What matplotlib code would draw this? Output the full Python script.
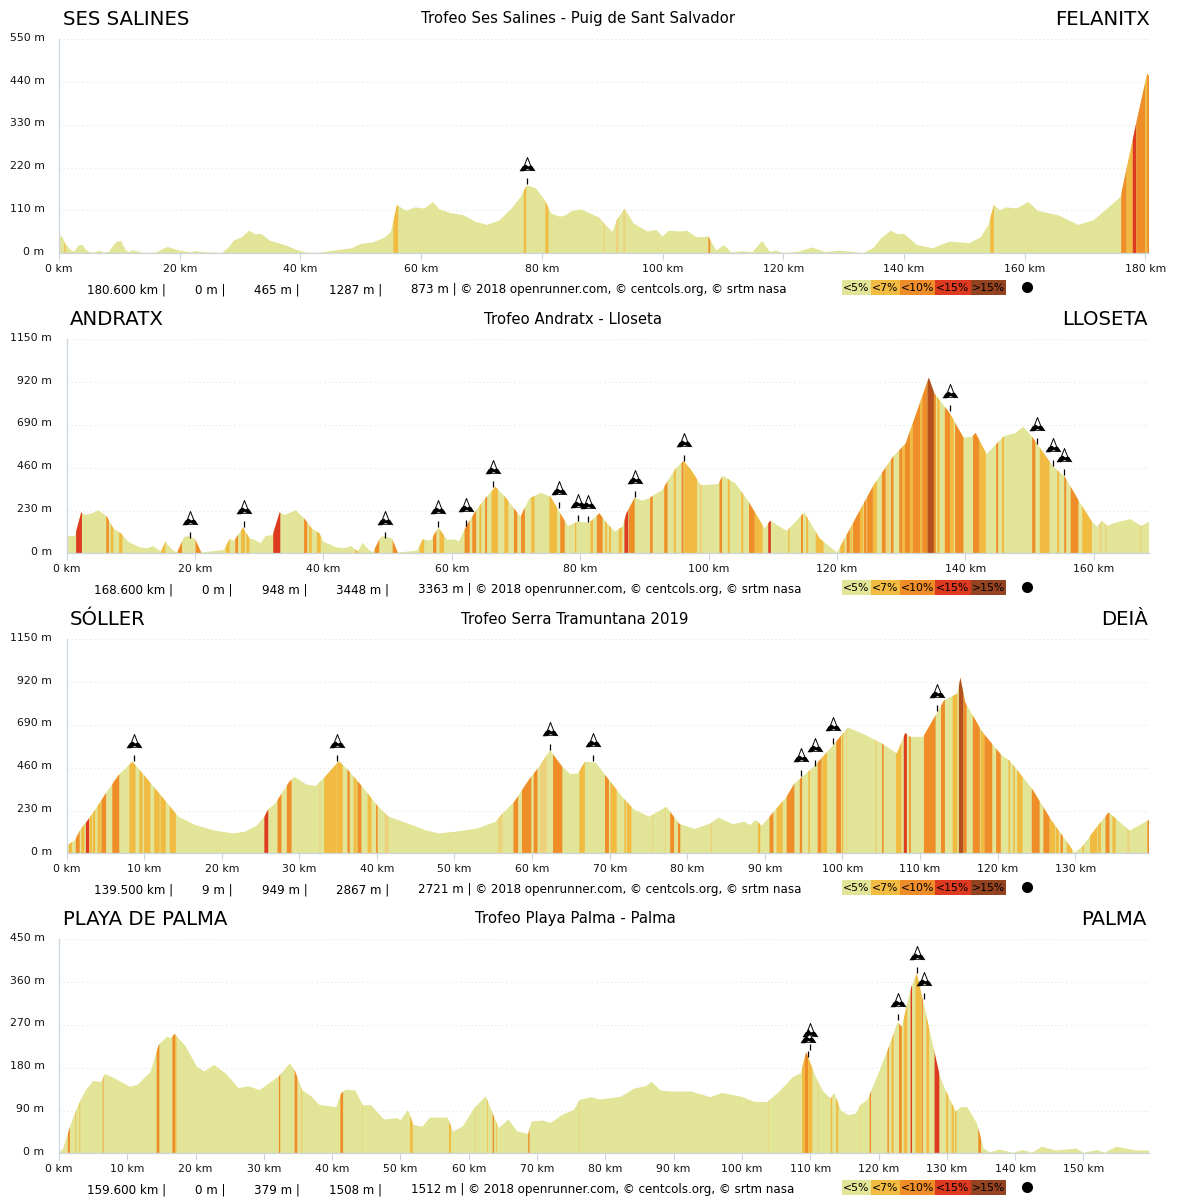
import matplotlib
matplotlib.use('Agg')
import matplotlib.pyplot as plt
from matplotlib.patches import Rectangle
from matplotlib.path import Path
from matplotlib.transforms import ScaledTranslation, offset_copy

# ---- colours: 0 base, 1 <7%, 2 <10%, 3 <15%, 4 >15%, 5 pale stripe, 6 steep stripe on the profile ----
slope_colors = ['#e2e497', '#f1bb42', '#ef8e28', '#dd3a1f', '#944321', '#ecd27c', '#b4501e']
slope_labels = ['<5%', '<7%', '<10%', '<15%', '>15%']

# ---- stage 1 ----
km1 = [0, 0.6, 1, 2, 2.5, 3.3, 3.9, 4.5, 5.2, 6.2, 6.5, 7.5, 8.3, 9, 9.6, 10.3, 11, 11.5, 12.2, 13, 14, 16, 18, 20, 22,
       22.5, 24, 27, 28, 29, 30.3, 31.5, 32.5, 33.5, 35, 37.5, 39.5, 41, 43, 46, 48.5, 50, 52, 54, 55, 56, 56.6, 57.5,
       59, 60.5, 62, 63, 65, 67, 69, 71, 73, 75, 76.5, 77.5, 79, 80.5, 81.5, 83, 84, 85, 86.5, 89.5, 90.3, 91.7, 92.4,
       93.7, 95.2, 97.5, 99, 100, 101, 102.9, 104, 105.7, 107.6, 108.9, 110.2, 111.4, 113, 114.9, 116.5, 117.8, 118.7,
       120, 122.5, 124.8, 127, 129.2, 133.3, 134.9, 136.2, 137.8, 139, 140, 142.2, 144.8, 146, 147.6, 150.8, 152.7,
       154, 154.9, 155.9, 157, 158.7, 160.6, 162.2, 165.7, 168.9, 171.4, 173.7, 175.9, 178.4, 180.3, 180.6]
ele1 = [44, 42, 25, 8, 4, 21, 21, 8, 2, 3, 7, 2, 4, 20, 30, 32, 9, 3, 8, 5, 1, 2, 16, 7, 2,
        6, 3, 1, 13, 33, 41, 58, 49, 50, 32, 21, 8, 2, 1, 8, 13, 24, 28, 41, 55, 124, 118, 109,
        118, 115, 132, 113, 103, 98, 81, 73, 85, 115, 145, 175, 167, 137, 103, 94, 98, 109, 113, 92, 77, 55, 85,
        115, 77, 56, 60, 43, 58, 56, 58, 41, 43, 7, 21, 2, 5, 3, 32, 4, 7,
        1, 4, 15, 3, 7, 1, 13, 38, 58, 49, 50, 21, 13, 21, 30, 26, 41,
        73, 124, 111, 118, 115, 132, 109, 97, 73, 85, 115, 145, 329, 462, 455]
bands1 = [(0.9, 1.1, 1), (55.4, 56.2, 1), (77, 77.4, 1), (80.6, 81.1, 1), (90.2, 90.4, 5), (92.3, 92.7, 5), (93.5, 93.8, 5),
          (107.6, 107.9, 2), (154.3, 154.9, 1), (176, 176.9, 2), (176.9, 177.9, 1), (177.9, 178.5, 3), (178.5, 180, 2),
          (180, 180.3, 1), (180.3, 180.6, 2)]
cols1_km = [77.5]
cols1_m = [178]

# ---- stage 2 ----
km2 = [0, 1.3, 2.3, 2.9, 4, 5, 6.3, 7.3, 8.5, 9.6, 11.4, 12.6, 13.5, 14.7, 15.4, 16.5, 17.2, 18.3, 18.9, 20, 21, 24.5,
       25.4, 26.1, 27.5, 28.5, 29.3, 30.2, 31, 32.1, 33.2, 34, 35.7, 37, 38.2, 39.4, 40, 42, 43.3, 44.3, 45.4, 46.1,
       47.1, 47.7, 48.9, 49.5, 50.7, 51.6, 54.6, 55.5, 56.7, 57.9, 59.3, 60.5, 61.1, 62.2, 63.5, 65, 66.8, 68.3, 70.7,
       72.1, 73.9, 75.4, 76.9, 78.1, 79.6, 81.4, 83, 84.2, 85.4, 86.6, 87.2, 88.5, 89.6, 90.7, 91.9, 92.8, 93.7, 94.9,
       96.1, 97.3, 98.8, 101.5, 102.2, 104.2, 106.3, 108.7, 109.6, 112.2, 114.9, 117.3, 120, 125.7, 128.7, 130.7, 134.3,
       135.2, 137.6, 139.7, 141, 141.6, 143.3, 146, 147.8, 149, 150.4, 153.7, 155.5, 157.6, 159.7, 160.5, 161.3, 162.1,
       163.3, 165.7, 167.4, 168.6]
ele2 = [93, 93, 220, 206, 215, 232, 197, 134, 107, 63, 32, 27, 39, 9, 63, 18, 4, 86, 93, 79, 4, 18,
        77, 68, 139, 80, 72, 54, 93, 98, 220, 206, 232, 188, 134, 107, 63, 32, 27, 39, 9, 57,
        18, 4, 86, 93, 79, 4, 14, 75, 68, 139, 72, 75, 63, 143, 215, 286, 358, 304, 197,
        295, 325, 304, 215, 147, 170, 164, 215, 161, 116, 143, 215, 299, 283, 295, 322, 340, 393, 456,
        497, 447, 366, 372, 417, 375, 274, 134, 175, 120, 220, 80, 4, 366, 518, 590, 944,
        858, 751, 622, 626, 647, 533, 629, 647, 680, 626, 465, 411, 286, 170, 143, 175, 147,
        164, 184, 147, 170]
bands2 = [(1.5, 2.4, 3), (6.2, 6.6, 2), (6.9, 7.3, 1), (8.2, 8.7, 1), (14.7, 15.4, 1), (17.3, 18, 2), (20.1, 21, 2),
          (24.8, 25.4, 1), (26.3, 26.7, 2), (27.2, 27.8, 1), (28, 28.5, 1), (32.2, 33.3, 3), (37, 37.5, 2), (37.8, 38.2, 1),
          (39, 39.6, 1), (45, 45.5, 1), (48, 48.7, 2), (50.8, 51.6, 2), (55, 55.7, 1), (57.1, 57.6, 2), (58.1, 58.8, 1),
          (62, 62.8, 2), (63.2, 63.8, 2), (64.3, 64.6, 1), (65.2, 65.5, 2), (66.2, 67.2, 1), (68.2, 68.8, 1), (69.7, 70.2, 2),
          (70.8, 71.4, 2), (72.4, 72.9, 1), (75.2, 76.4, 1), (76.9, 77.6, 2), (79.2, 79.4, 1), (81.6, 82, 1), (82.6, 83.5, 2),
          (83.9, 84.2, 1), (84.5, 84.8, 1), (86, 86.5, 1), (86.9, 87.5, 3), (87.6, 88.5, 2), (90.9, 91.3, 2), (93.1, 93.6, 2),
          (94.6, 94.9, 1), (95.8, 96.1, 2), (96.2, 98.2, 1), (98.6, 99, 5), (101.7, 102.1, 2), (103, 103.3, 1), (105.1, 105.4, 1),
          (106.3, 107.2, 2), (107.2, 108.4, 1), (109.3, 109.7, 3), (112.4, 112.6, 1), (114.4, 114.7, 2), (115.2, 115.5, 1),
          (116.7, 117.9, 1), (120.5, 121.2, 1), (121.5, 122, 2), (122.1, 122.4, 1), (122.5, 123.6, 2), (123.6, 124.1, 1),
          (124.2, 124.6, 2), (124.7, 125.6, 2), (125.6, 126.2, 1), (127, 127.6, 2), (127.6, 128.2, 5), (128.4, 128.8, 2),
          (129.7, 130.2, 2), (130.2, 130.6, 1), (130.6, 131.4, 2), (131.4, 131.8, 1), (131.8, 133, 2), (133, 133.3, 1),
          (133.3, 134.1, 2), (134.1, 135.1, 6), (135.1, 135.4, 2), (135.6, 136, 1), (136.8, 137.6, 2), (137.6, 138.2, 1),
          (138.4, 139.7, 2), (141.2, 142.2, 2), (142.2, 143.2, 1), (144.8, 145.1, 2), (145.7, 146, 1), (150.4, 150.9, 2),
          (151.6, 153.1, 1), (154.3, 154.6, 1), (155.4, 155.7, 2), (156.4, 157.6, 2), (158.2, 159.7, 1), (160.9, 161.2, 5),
          (161.8, 162, 5), (167.2, 167.4, 5)]
cols2_km = [19.2, 27.6, 49.6, 57.9, 62.3, 66.4, 76.7, 79.7, 81.2, 88.5, 96.1, 137.6, 151.2, 153.7, 155.4]
cols2_m = [79, 139, 80, 139, 147, 356, 241, 170, 166, 300, 497, 763, 586, 470, 420]

# ---- stage 3 ----
km3 = [0.2, 1.1, 1.8, 2.6, 3.8, 5, 6.7, 8.5, 10, 11.4, 13.2, 14.4, 16.6, 19.1, 21.5, 23, 24.5, 25.5, 26, 26.9, 28.7, 29.4,
       30.9, 32.1, 33.3, 35.1, 36.3, 38.3, 40, 41.5, 44.2, 46.2, 47.9, 50.1, 53, 55.3, 56, 57.7, 59.7, 60.9, 62.3, 63.9,
       64.9, 65.9, 66.8, 68.2, 68.7, 69.6, 71.6, 73.1, 75.1, 77.3, 79, 81, 83, 84, 85.9, 87.4, 88.1, 88.8, 89.6, 90.6,
       92.8, 93.8, 96.3, 98.8, 100.7, 103, 105.1, 107, 108.1, 108.7, 110.4, 113.1, 114.8, 115.2, 115.8, 118, 120.5,
       121.5, 124.4, 126.9, 129.9, 130.9, 132.8, 134.3, 137, 139.5]
ele3 = [45, 72, 129, 170, 241, 318, 420, 492, 420, 349, 259, 197, 152, 122, 107, 116, 148, 197, 236, 268, 384, 411,
        370, 361, 411, 495, 447, 349, 259, 197, 157, 125, 107, 116, 134, 170, 206, 277, 402, 465, 554, 465,
        426, 429, 492, 488, 460, 411, 304, 236, 197, 250, 157, 131, 161, 191, 157, 170, 152, 179, 148, 197,
        304, 375, 465, 581, 676, 635, 590, 536, 647, 626, 626, 822, 858, 944, 813, 653, 527,
        500, 349, 179, 4, 36, 143, 220, 122, 179]
bands3 = [(0.3, 0.7, 1), (1.2, 1.7, 2), (1.9, 2.3, 1), (2.5, 2.9, 3), (2.95, 3.3, 1), (3.4, 3.7, 1), (4, 4.4, 1), (4.5, 5.1, 2),
          (5.9, 6.8, 2), (8.1, 8.9, 1), (9.4, 9.8, 1), (10, 10.8, 1), (11.3, 12, 1), (12.1, 12.8, 1), (13.3, 14.1, 1),
          (25.5, 26, 3), (27.2, 27.7, 2), (28.4, 29, 2), (32.6, 32.7, 5), (33.2, 34.8, 1), (34.8, 35.6, 1), (36.2, 36.5, 2),
          (37, 37.4, 1), (37.5, 38, 2), (38.8, 39.3, 1), (39.9, 40.1, 2), (41, 41.5, 5), (55.6, 56.2, 5), (57.6, 58.2, 2),
          (58.7, 59.9, 2), (60.2, 60.7, 2), (61, 61.9, 5), (62.7, 63.9, 2), (66.1, 66.8, 1), (69.4, 69.9, 2), (70.1, 70.9, 1),
          (71.9, 72.1, 1), (72.2, 72.8, 1), (75.5, 75.6, 5), (77.1, 77.2, 5), (77.8, 78.3, 2), (78.8, 79.1, 2), (83, 83.2, 5),
          (89.1, 89.4, 1), (90.6, 91.1, 2), (91.5, 92.3, 1), (92.8, 93.8, 2), (94.5, 94.8, 2), (95.6, 95.8, 1), (96.8, 97.3, 2),
          (97.4, 98, 1), (99.2, 99.8, 2), (99.9, 100.1, 1), (100.5, 100.6, 5), (104.2, 104.4, 5), (105.1, 105.3, 2),
          (106.9, 107.6, 1), (107.9, 108.3, 3), (108.6, 108.8, 2), (110.5, 112, 2), (112.7, 113.2, 2), (114.2, 114.8, 1),
          (115, 115.6, 6), (115.6, 116, 2), (116.8, 117.7, 2), (117.8, 118.3, 1), (118.3, 119.3, 2), (119.8, 120.4, 2),
          (121.4, 121.6, 1), (122, 122.2, 1), (122.5, 123.2, 1), (124.4, 125.4, 2), (125.9, 126.7, 2), (126.7, 127.4, 1),
          (127.5, 127.9, 1), (128.1, 128.4, 2), (128.9, 129.6, 1), (130.9, 131.1, 1), (131.9, 132.8, 1), (132.9, 133.3, 1),
          (133.9, 134.4, 2), (134.8, 135.2, 1), (136.7, 137, 5), (139.3, 139.5, 2)]
cols3_km = [8.7, 34.8, 62.3, 67.9, 94.6, 96.4, 98.8, 112.2]
cols3_m = [495, 495, 556, 497, 417, 470, 586, 763]

# ---- stage 4 ----
km4 = [0, 0.6, 1.7, 2.8, 3.9, 5, 6.2, 6.7, 8.1, 10.4, 11.5, 13.4, 14.6, 15.8, 16.4, 16.9, 18.5, 20.2, 21.3, 22.7, 24.4, 26.3,
       27.7, 29.4, 32.2, 33.8, 34.5, 35.6, 37, 38.1, 40.6, 41.3, 42, 43.4, 44.5, 45.7, 47.6, 49.6, 50, 51.1, 51.9, 53.2,
       54.3, 56.9, 57.7, 59.1, 60.8, 62.5, 63.5, 64.4, 65.8, 67.1, 68.7, 69.2, 70.9, 72, 73.7, 75.4, 76.2, 77.9, 79.2,
       82.3, 84.2, 85.9, 86.8, 88.1, 89.8, 92.6, 95.4, 97.1, 99.9, 101.9, 103.7, 105.5, 107.5, 108.6, 109.4, 110.8, 111.9,
       113, 113.5, 114.5, 115.6, 116.7, 117.3, 118.4, 120.1, 121.8, 122.8, 123.4, 124.8, 125.6, 126.5, 129, 129.9, 131.3,
       132.1, 133, 134.4, 135.4, 136.3, 137.7, 139.7, 141.1, 142.5, 143.9, 145.9, 149, 150, 152, 153.1, 154.8, 157.6, 159.6]
ele4 = [0, 10, 60, 101, 132, 152, 150, 167, 158, 140, 144, 171, 228, 245, 242, 251, 226, 182, 172, 186, 168, 137,
        141, 133, 162, 189, 175, 133, 119, 102, 97, 126, 134, 132, 101, 101, 71, 74, 69, 91, 60, 56,
        75, 75, 46, 56, 95, 120, 84, 53, 71, 46, 41, 67, 69, 64, 81, 91, 112, 118, 113,
        119, 136, 141, 150, 132, 130, 130, 118, 127, 119, 108, 108, 130, 161, 168, 213, 161, 130,
        115, 127, 90, 80, 84, 101, 113, 172, 235, 276, 266, 350, 378, 322, 161, 130, 88,
        97, 97, 63, 10, 2, 8, 1, 7, 1, 14, 6, 10, 1, 7, 1, 14, 6, 6]
bands4 = [(1.3, 1.6, 2), (2.4, 2.5, 1), (3, 3.1, 1), (6.4, 6.5, 2), (14.3, 14.7, 2), (16.6, 17, 2), (17, 17.2, 1), (32.2, 32.4, 2),
          (34.5, 34.9, 2), (35.5, 35.6, 1), (41.2, 41.6, 2), (44.4, 44.5, 5), (51.4, 51.8, 1), (57.1, 57.4, 1), (60.9, 61, 5),
          (62.7, 62.8, 1), (63.5, 63.7, 2), (64, 64.1, 1), (68.7, 68.9, 2), (76.1, 76.2, 5), (103.8, 103.9, 5), (108.8, 109.2, 1),
          (109.2, 109.7, 2), (109.7, 110.3, 1), (111.1, 111.2, 5), (113, 113.2, 1), (113.8, 114.1, 1), (117.3, 117.4, 5),
          (118.7, 118.9, 2), (121.3, 121.5, 2), (121.9, 122.2, 1), (123, 123.4, 2), (123.7, 124.2, 1), (124.7, 124.9, 3),
          (125.4, 126.2, 1), (126.3, 126.5, 2), (127, 127.4, 1), (128.2, 128.9, 3), (129.9, 130.2, 1), (130.7, 131, 1),
          (131.2, 131.4, 1), (134.6, 135, 2)]
cols4_km = [109.9, 109.7, 122.9, 125.7, 126.7]
cols4_m = [217, 203, 280, 378, 324]

# ---- labels ----
starts = ['SES SALINES', 'ANDRATX', 'SÓLLER', 'PLAYA DE PALMA']
ends = ['FELANITX', 'LLOSETA', 'DEIÀ', 'PALMA']
titles = ['Trofeo Ses Salines - Puig de Sant Salvador', 'Trofeo Andratx - Lloseta',
          'Trofeo Serra Tramuntana 2019', 'Trofeo Playa Palma - Palma']
distances = ['180.600 km |', '168.600 km |', '139.500 km |', '159.600 km |']
lowest = ['0 m |', '0 m |', '9 m |', '0 m |']
highest = ['465 m |', '948 m |', '949 m |', '379 m |']
climbed = ['1287 m |', '3448 m |', '2867 m |', '1508 m |']
descended = ['873 m', '3363 m', '2721 m', '1512 m']
credit = ' | © 2018 openrunner.com, © centcols.org, © srtm nasa'
totals = [180.6, 168.6, 139.5, 159.6]
y_steps = [110, 230, 230, 90]
x_steps = [20, 20, 10, 10]

# pixel layout of each panel
left_px = [59, 66.5, 66.5, 59]
start_px = [63, 70, 70, 63]
end_px = [1150, 1148, 1148, 1146]
title_px = [578, 573, 575, 575]
RIGHT = 1149
GRID_TOP = 39.3
BASE = 253.3
STEP = 300

AXIS_GREY = '#ccd6de'
profiles = [(km1, ele1, bands1, cols1_km, cols1_m), (km2, ele2, bands2, cols2_km, cols2_m),
            (km3, ele3, bands3, cols3_km, cols3_m), (km4, ele4, bands4, cols4_km, cols4_m)]

# mountain icon
triangle = Path([(-0.62, -0.6), (0, 1), (0.62, -0.6), (-0.62, -0.6)], closed=True)
rock = Path([(-1, -0.72), (-0.62, -0.12), (-0.22, 0.12), (0.1, -0.12), (0.4, 0.02), (0.62, -0.12), (1, -0.72),
             (0.4, -0.62), (0, -0.42), (-0.42, -0.72), (-1, -0.72)], closed=True)

fig = plt.figure(figsize=(12, 12), dpi=100)
fig.patch.set_facecolor('white')

# overlay in pixels for titles, footer and key
over = fig.add_axes([0, 0, 1, 1], zorder=5)
over.set_xlim(0, 1200)
over.set_ylim(1200, 0)
over.axis('off')

for i, (km, ele, bands, col_km, col_m) in enumerate(profiles):
    top = GRID_TOP + i * STEP
    base = BASE + i * STEP
    ax = fig.add_axes([left_px[i] / 1200, 1 - base / 1200, (RIGHT - left_px[i]) / 1200, (base - top) / 1200])
    ax.set_xlim(0, totals[i])
    ax.set_ylim(0, y_steps[i] * 5)
    ax.patch.set_alpha(0)

    # profile, then the slope stripes cut to its outline
    ground = ax.fill([km[0]] + km + [km[-1]], [0] + ele + [0], color=slope_colors[0], lw=0, zorder=2)[0]
    for a, b, c in bands:
        stripe = ax.axvspan(a, b, color=slope_colors[c], lw=0, zorder=3)
        stripe.set_snap(False)
        stripe.set_clip_path(ground)

    ax.set_yticks([y_steps[i] * k for k in range(6)])
    ax.set_yticklabels(['%d m' % (y_steps[i] * k) for k in range(6)], fontsize=7.8, color='#111111')
    ax.set_xticks(range(0, int(totals[i]) + 1, x_steps[i]))
    ax.set_xticklabels(['%d km' % v for v in range(0, int(totals[i]) + 1, x_steps[i])], fontsize=7.8, color='#111111')
    ax.tick_params(axis='y', length=0, pad=10.5)
    ax.tick_params(axis='x', length=5, width=0.8, color=AXIS_GREY, pad=3)
    shift = ScaledTranslation(0, 1.8 / 72, fig.dpi_scale_trans)
    for lab in ax.get_yticklabels():
        lab.set_transform(lab.get_transform() + shift)
    ax.yaxis.grid(True, color='#e4e4e4', lw=0.8, ls=(0, (1, 2.5)), zorder=1)
    ax.set_axisbelow(True)
    for side in ['top', 'right']:
        ax.spines[side].set_visible(False)
    for side in ['left', 'bottom']:
        ax.spines[side].set_color(AXIS_GREY)
        ax.spines[side].set_linewidth(0.9)
        ax.spines[side].set_zorder(4)

    # climbs
    stem = offset_copy(ax.transData, fig=fig, y=3.2, units='dots')
    icon = offset_copy(ax.transData, fig=fig, y=19.5, units='dots')
    ax.plot(col_km, col_m, ls='', marker='|', ms=4.5, mew=0.9, color='black', transform=stem, clip_on=False, zorder=6)
    ax.plot(col_km, col_m, ls='', marker=triangle, ms=11.5, mfc='white', mec='black', mew=0.7, transform=icon,
            clip_on=False, zorder=6)
    ax.plot(col_km, col_m, ls='', marker=rock, ms=11.5, mfc='black', mec='black', mew=0, transform=icon,
            clip_on=False, zorder=7)

    # titles
    over.text(start_px[i], 19.5 + i * STEP, starts[i], fontsize=14.2, ha='left', va='center', color='black')
    over.text(end_px[i], 19.5 + i * STEP, ends[i], fontsize=14.2, ha='right', va='center', color='black')
    over.text(title_px[i], 19 + i * STEP, titles[i], fontsize=10.75, ha='center', va='center', color='black')

    # footer
    y_foot = 290 + i * STEP
    x0 = left_px[i]
    over.text(x0 + 28, y_foot, distances[i], fontsize=8.6, ha='left', va='center')
    over.text(x0 + 136, y_foot, lowest[i], fontsize=8.6, ha='left', va='center')
    over.text(x0 + 195.5, y_foot, highest[i], fontsize=8.6, ha='left', va='center')
    over.text(x0 + 270, y_foot, climbed[i], fontsize=8.6, ha='left', va='center')
    over.text(x0 + 352, y_foot, descended[i] + credit, fontsize=8.6, ha='left', va='center')

    # slope key
    edges = [842, 870.6, 899.7, 935, 970.5, 1006.4]
    y_key = 280 + i * STEP
    for k in range(5):
        over.add_patch(Rectangle((edges[k], y_key), edges[k + 1] - edges[k], 15, color=slope_colors[k], lw=0))
        over.text((edges[k] + edges[k + 1]) / 2, y_key + 8, slope_labels[k], fontsize=7.8, ha='center', va='center',
                  color='black')
    over.plot([1026.5], [y_key + 7], marker='o', ms=8, color='black', mew=0)

fig.savefig('out.png', dpi=100, facecolor='white')
